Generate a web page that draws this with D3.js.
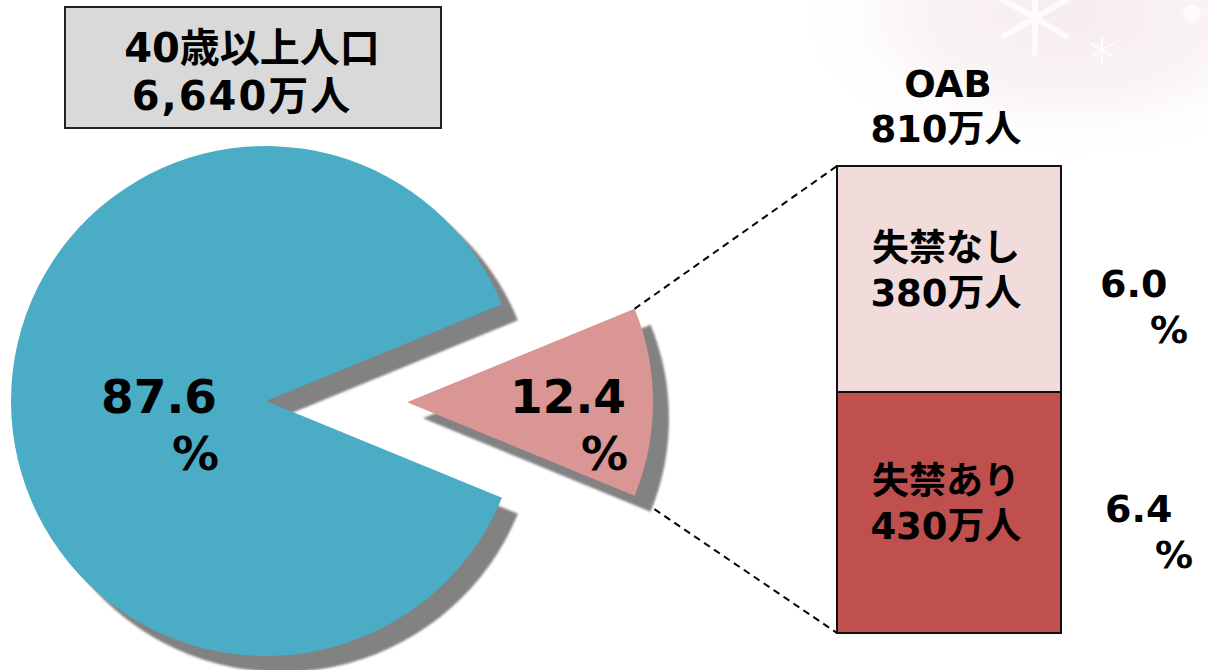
<!DOCTYPE html>
<html><head><meta charset="utf-8">
<script src="https://cdn.jsdelivr.net/npm/d3@7"></script>
<style>
html,body{margin:0;padding:0;background:#fff;}
svg{display:block;}
text{font-family:"DejaVu Sans","Noto Sans CJK JP",sans-serif;font-weight:bold;fill:#000;}
</style></head>
<body>
<svg id="chart" width="1208" height="670"></svg>
<script>
// ---- data ----
const pieCategories = ["40歳以上（OABなし）", "OAB"];
const pieValues = [87.6, 12.4];
const pieLabels = ["87.6", "12.4"];
const barCategories = ["失禁あり", "失禁なし"];
const barValues = [6.4, 6.0];           // % of 40+ population
const barPeople = ["430万人", "380万人"];
const barPctLabels = ["6.4", "6.0"];
const titleLines = ["40歳以上人口", "6,640万人"];
const oabLines = ["OAB", "810万人"];

const svg = d3.select("#chart");
const W = 1208, H = 670;

// background decoration (faint pink glow with snowflakes, top-right)
const defs = svg.append("defs");
const rg = defs.append("radialGradient").attr("id","glow").attr("cx","0.5").attr("cy","0.5").attr("r","0.5");
rg.append("stop").attr("offset","0%").attr("stop-color","#f6ecee");
rg.append("stop").attr("offset","55%").attr("stop-color","#faf4f5");
rg.append("stop").attr("offset","100%").attr("stop-color","#ffffff").attr("stop-opacity",0);
svg.append("ellipse").attr("cx",1070).attr("cy",15).attr("rx",280).attr("ry",150).attr("fill","url(#glow)");
function flake(x, y, r, w, op) {
  const g = svg.append("g").attr("transform", `translate(${x},${y})`).attr("stroke", "#fff").attr("stroke-width", w).attr("opacity", op);
  d3.range(6).forEach(k => {
    const a = k * Math.PI / 3 + Math.PI / 6;
    g.append("line").attr("x1", 0).attr("y1", 0).attr("x2", r * Math.cos(a)).attr("y2", r * Math.sin(a));
  });
}
flake(1035, 18, 38, 6, 0.8);
flake(1102, 50, 14, 2, 0.8);
svg.append("circle").attr("cx", 1192).attr("cy", 14).attr("r", 9).attr("fill", "#fff").attr("opacity", 0.7);
const blur = defs.append("filter").attr("id","soft").attr("x","-10%").attr("y","-10%").attr("width","120%").attr("height","120%");
blur.append("feGaussianBlur").attr("stdDeviation",0.8);

// ---- pie ----
const cx = 266, cy = 401;
const radii = [255, 246];
const colors = ["#4BACC6", "#D99694"];
const explode = [0, 141];
const shadowOff = 16;
const frac = pieValues[1] / d3.sum(pieValues);
const start = Math.PI / 2 + Math.PI * frac;
const pie = d3.pie().sort(null).startAngle(start).endAngle(start + 2 * Math.PI);
const arcs = pie(pieValues);
const arcGen = d3.arc().innerRadius(0);
function offset(d, i) {
  const a = (d.startAngle + d.endAngle) / 2 + 0.009;
  return [explode[i] * Math.sin(a), -explode[i] * Math.cos(a)];
}

// ---- bar ----
const barX0 = 837, barX1 = 1061;
const y = d3.scaleLinear().domain([0, d3.sum(barValues)]).range([633, 166]);
const stack = [];
let acc = 0;
barValues.forEach((v, i) => { stack.push({ v, y0: acc, y1: acc + v, i }); acc += v; });
const barColors = ["#C0504D", "#F2DCDB"];

// dashed connector lines (from OAB slice corners to bar corners)
const pd = arcs[1], po = offset(pd, 1);
function corner(angle, r) {
  return [cx + po[0] + r * Math.sin(angle), cy + po[1] - r * Math.cos(angle)];
}
const cTop = corner(pd.startAngle, radii[1]);
const cBot = corner(pd.endAngle, radii[1]);
const lineG = svg.append("g");
lineG.append("line").attr("x1", cTop[0]).attr("y1", cTop[1]).attr("x2", barX0).attr("y2", y(d3.sum(barValues)))
  .attr("stroke", "#000").attr("stroke-width", 2).attr("stroke-dasharray", "7,5");
lineG.append("line").attr("x1", cBot[0]).attr("y1", cBot[1]).attr("x2", barX0).attr("y2", y(0))
  .attr("stroke", "#000").attr("stroke-width", 2).attr("stroke-dasharray", "7,5");

const pieG = svg.append("g").attr("transform", `translate(${cx},${cy})`);
// shadows
pieG.selectAll("path.sh").data(arcs).join("path").attr("class", "sh")
  .attr("d", (d, i) => arcGen.outerRadius(radii[i])(d))
  .attr("transform", (d, i) => { const o = offset(d, i); return `translate(${o[0] + shadowOff},${o[1] + shadowOff})`; })
  .attr("fill", "#828282").attr("filter", "url(#soft)");
// slices
pieG.selectAll("path.sl").data(arcs).join("path").attr("class", "sl")
  .attr("d", (d, i) => arcGen.outerRadius(radii[i])(d))
  .attr("transform", (d, i) => { const o = offset(d, i); return `translate(${o[0]},${o[1]})`; })
  .attr("fill", (d, i) => colors[i]);

// pie labels
const pieLabelPos = [[217, 413, 470], [626, 413, 470]];
pieLabels.forEach((t, i) => {
  const p = pieLabelPos[i];
  svg.append("text").attr("x", p[0]).attr("y", p[1]).attr("text-anchor", "end").attr("font-size", 47).text(t);
  svg.append("text").attr("x", p[0] + 2).attr("y", p[2]).attr("text-anchor", "end").attr("font-size", 47).text("%");
});

// bar segments
const barG = svg.append("g");
barG.selectAll("rect").data(stack).join("rect")
  .attr("x", barX0).attr("width", barX1 - barX0)
  .attr("y", d => y(d.y1)).attr("height", d => y(d.y0) - y(d.y1))
  .attr("fill", d => barColors[d.i]).attr("stroke", "#111").attr("stroke-width", 2);

// bar labels
const bcx = 946;
stack.forEach(d => {
  const mid = (y(d.y0) + y(d.y1)) / 2;
  svg.append("text").attr("x", bcx).attr("y", mid - 18).attr("text-anchor", "middle").attr("font-size", 37).text(barCategories[d.i]);
  svg.append("text").attr("x", bcx).attr("y", mid + 27).attr("text-anchor", "middle").attr("font-size", 37).text(barPeople[d.i]);
  const dy = d.i === 0 ? 10 : 18;
  const dx = d.i === 0 ? 5 : 0;
  svg.append("text").attr("x", 1100 + dx).attr("y", mid + dy).attr("font-size", 38).text(barPctLabels[d.i]);
  svg.append("text").attr("x", 1150 + dx).attr("y", mid + dy + 46).attr("font-size", 38).text("%");
});

// OAB title above bar
svg.append("text").attr("x", 948).attr("y", 97).attr("text-anchor", "middle").attr("font-size", 37).text(oabLines[0]);
svg.append("text").attr("x", 946).attr("y", 142).attr("text-anchor", "middle").attr("font-size", 37).text(oabLines[1]);

// top-left title box
svg.append("rect").attr("x", 65).attr("y", 7).attr("width", 376).attr("height", 121)
  .attr("fill", "#D9D9D9").attr("stroke", "#222").attr("stroke-width", 2);
svg.append("text").attr("x", 252).attr("y", 62).attr("text-anchor", "middle").attr("font-size", 40).text(titleLines[0]);
svg.append("text").attr("x", 242).attr("y", 110).attr("text-anchor", "middle").attr("font-size", 40).attr("letter-spacing", 2).text(titleLines[1]);
</script>
</body></html>
